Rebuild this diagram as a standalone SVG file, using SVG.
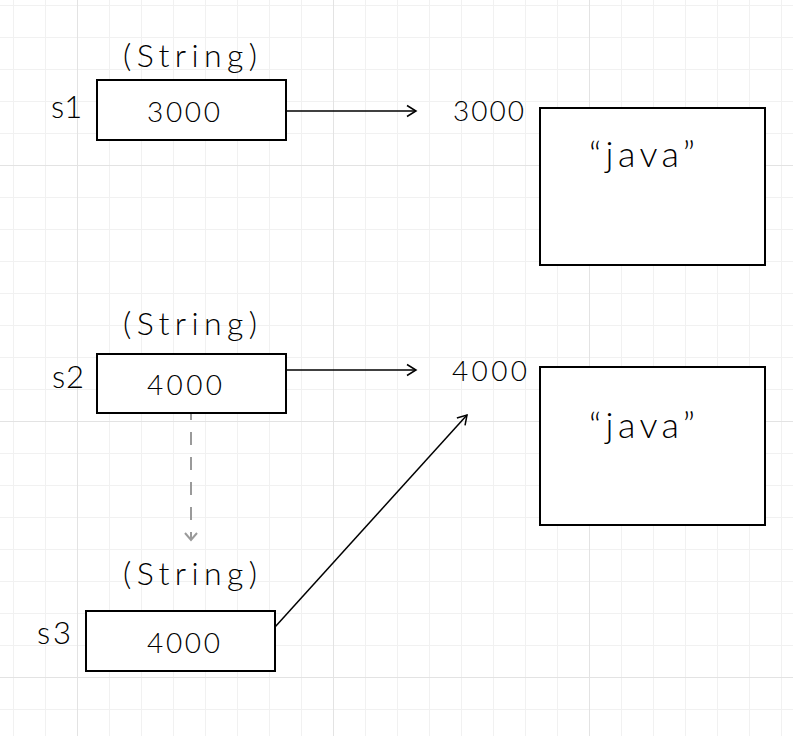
<svg xmlns="http://www.w3.org/2000/svg" width="793" height="736" viewBox="0 0 793 736">
<style>
.box{fill:#fff;stroke:#000;stroke-width:2}
.t{font-family:Lato,"Noto Sans","DejaVu Sans",sans-serif;font-weight:300;fill:#000}
.ty{font-size:32px}
.num{font-size:28px}
.var{font-size:31px}
.jv{font-size:36px}
.con{fill:none;stroke:#000;stroke-width:1.5}
.dash{fill:none;stroke:#9a9a9a;stroke-width:2;stroke-dasharray:13 12;stroke-dashoffset:7}
.major{stroke:#e3e3e3;stroke-width:1}
</style>
<defs>
<pattern id="grid" x="13" y="5" width="32" height="32" patternUnits="userSpaceOnUse">
<path d="M0.5 0V32M0 0.5H32" fill="none" stroke="#f1f1f1" stroke-width="1"/>
</pattern>
<marker id="arr" markerUnits="userSpaceOnUse" markerWidth="14" markerHeight="14" viewBox="-12 -7 14 14" refX="0" refY="0" orient="auto">
<path d="M-9 -5.5L0 0L-9 5.5" fill="none" stroke="#000" stroke-width="1.5"/>
</marker>
<marker id="arrg" markerUnits="userSpaceOnUse" markerWidth="14" markerHeight="14" viewBox="-12 -7 14 14" refX="0" refY="0" orient="auto">
<path d="M-7 -6L0 0L-7 6" fill="none" stroke="#9a9a9a" stroke-width="2"/>
</marker>
</defs>
<rect width="793" height="736" fill="#fff"/>
<rect width="793" height="736" fill="url(#grid)"/>
<g class="major">
<path d="M77.5 0V736M333.5 0V736M589.5 0V736M0 165.5H793M0 421.5H793M0 677.5H793"/>
</g>
<g id="connectors">
<line class="con" x1="287" y1="111" x2="416" y2="111" marker-end="url(#arr)"/>
<line class="con" x1="287" y1="370" x2="416" y2="370" marker-end="url(#arr)"/>
<line class="dash" x1="191" y1="414" x2="191" y2="540" marker-end="url(#arrg)"/>
<line class="con" x1="275" y1="627" x2="467" y2="415" marker-end="url(#arr)"/>
</g>
<g id="s1">
<text class="t ty" x="123" y="67" textLength="134" lengthAdjust="spacing">(String)</text>
<text class="t var" x="51" y="118">s1</text>
<rect class="box" x="97" y="80" width="189" height="60"/>
<text class="t num" x="147" y="122" textLength="73" lengthAdjust="spacing">3000</text>
</g>
<g id="obj3000">
<text class="t num" x="453" y="121" textLength="71" lengthAdjust="spacing">3000</text>
<rect class="box" x="540" y="108" width="225" height="157"/>
<text class="t jv" x="589" y="167" textLength="106" lengthAdjust="spacing">“java”</text>
</g>
<g id="s2">
<text class="t ty" x="123" y="335" textLength="134" lengthAdjust="spacing">(String)</text>
<text class="t var" x="52" y="388" textLength="32" lengthAdjust="spacing">s2</text>
<rect class="box" x="97" y="354" width="189" height="59"/>
<text class="t num" x="147" y="395" textLength="75" lengthAdjust="spacing">4000</text>
</g>
<g id="obj4000">
<text class="t num" x="452" y="381" textLength="75" lengthAdjust="spacing">4000</text>
<rect class="box" x="540" y="367" width="225" height="158"/>
<text class="t jv" x="589" y="438" textLength="106" lengthAdjust="spacing">“java”</text>
</g>
<g id="s3">
<text class="t ty" x="123" y="585" textLength="134" lengthAdjust="spacing">(String)</text>
<text class="t var" x="37" y="644" textLength="34" lengthAdjust="spacing">s3</text>
<rect class="box" x="86" y="611" width="189" height="60"/>
<text class="t num" x="147" y="653" textLength="73" lengthAdjust="spacing">4000</text>
</g>
</svg>
